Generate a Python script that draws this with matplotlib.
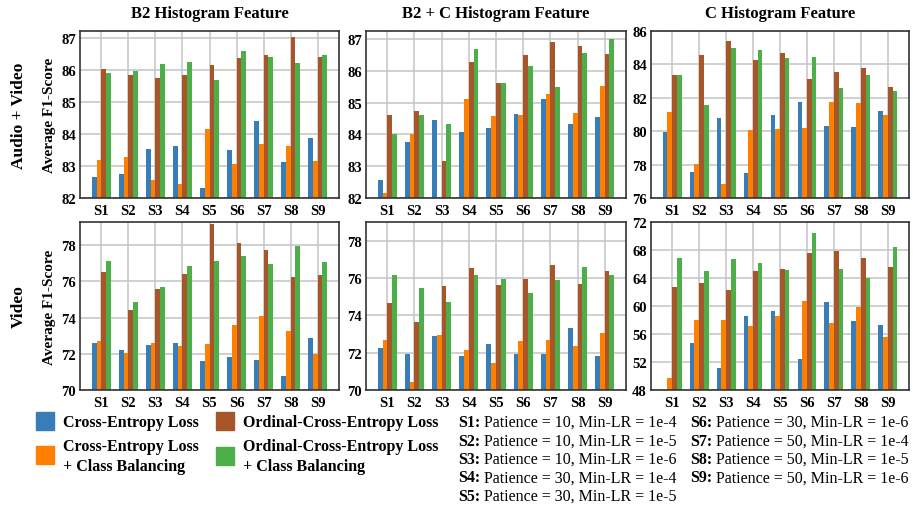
import matplotlib
matplotlib.use("Agg")
import matplotlib.pyplot as plt
import numpy as np
from matplotlib.patches import Rectangle
from matplotlib.text import Annotation

# ---------------- data ----------------
settings = ["S1", "S2", "S3", "S4", "S5", "S6", "S7", "S8", "S9"]
series_names = ["Cross-Entropy Loss",
                "Cross-Entropy Loss\n+ Class Balancing",
                "Ordinal-Cross-Entropy Loss",
                "Ordinal-Cross-Entropy Loss\n+ Class Balancing"]
colors = ["#377eb8", "#ff7f00", "#a65628", "#4daf4a"]
col_titles = ["B2 Histogram Feature", "B2 + C Histogram Feature", "C Histogram Feature"]
row_titles = ["Audio + Video", "Video"]

# Audio + Video
av_b2_ce = [82.67, 82.76, 83.54, 83.63, 82.32, 83.51, 84.41, 83.13, 83.88]
av_b2_ce_cb = [83.20, 83.29, 82.57, 82.45, 84.16, 83.07, 83.70, 83.63, 83.16]
av_b2_oce = [86.03, 85.85, 85.75, 85.85, 86.16, 86.38, 86.47, 87.05, 86.42]
av_b2_oce_cb = [85.91, 85.97, 86.19, 86.25, 85.69, 86.59, 86.41, 86.22, 86.47]

av_b2c_ce = [82.57, 83.76, 84.44, 84.07, 84.19, 84.63, 85.10, 84.32, 84.54]
av_b2c_ce_cb = [82.17, 84.00, 81.90, 85.10, 84.57, 84.60, 85.28, 84.66, 85.53]
av_b2c_oce = [84.60, 84.72, 83.16, 86.28, 85.63, 86.50, 86.91, 86.78, 86.53]
av_b2c_oce_cb = [84.00, 84.60, 84.32, 86.69, 85.63, 86.16, 85.50, 86.56, 87.00]

av_c_ce = [79.98, 77.57, 80.79, 77.51, 80.97, 81.75, 80.31, 80.25, 81.21]
av_c_ce_cb = [81.15, 78.05, 76.85, 80.08, 80.14, 80.19, 81.75, 81.69, 80.97]
av_c_oce = [83.36, 84.55, 85.38, 84.25, 84.67, 83.12, 83.53, 83.77, 82.64]
av_c_oce_cb = [83.36, 81.57, 84.97, 84.85, 84.37, 84.43, 82.58, 83.36, 82.40]

# Video
v_b2_ce = [72.62, 72.18, 72.51, 72.62, 71.62, 71.84, 71.68, 70.79, 72.89]
v_b2_ce_cb = [72.73, 72.06, 72.62, 72.45, 72.56, 73.61, 74.11, 73.23, 71.97]
v_b2_oce = [76.49, 74.44, 75.55, 76.38, 79.14, 78.09, 77.70, 76.21, 76.32]
v_b2_oce_cb = [77.10, 74.83, 75.71, 76.82, 77.13, 77.42, 76.93, 77.93, 77.04]

v_b2c_ce = [72.27, 71.95, 72.91, 71.84, 72.48, 71.95, 71.95, 73.34, 71.84]
v_b2c_ce_cb = [72.70, 70.45, 72.96, 72.16, 71.46, 72.64, 72.70, 72.38, 73.07]
v_b2c_oce = [74.64, 73.66, 75.59, 76.55, 75.64, 75.96, 76.71, 75.70, 76.39]
v_b2c_oce_cb = [76.14, 75.48, 74.73, 76.18, 75.96, 75.21, 75.91, 76.61, 76.18]

v_c_ce = [47.50, 54.67, 51.10, 58.52, 59.24, 52.38, 60.52, 57.90, 57.24]
v_c_ce_cb = [49.67, 57.95, 57.95, 57.10, 58.52, 60.67, 57.52, 59.81, 55.52]
v_c_oce = [62.67, 63.24, 62.24, 64.95, 65.24, 67.52, 67.81, 66.81, 65.52]
v_c_oce_cb = [66.81, 64.95, 66.76, 66.10, 65.10, 70.38, 65.24, 64.00, 68.38]

setting_desc = ["Patience = 10, Min-LR = 1e-4", "Patience = 10, Min-LR = 1e-5",
                "Patience = 10, Min-LR = 1e-6", "Patience = 30, Min-LR = 1e-4",
                "Patience = 30, Min-LR = 1e-5", "Patience = 30, Min-LR = 1e-6",
                "Patience = 50, Min-LR = 1e-4", "Patience = 50, Min-LR = 1e-5",
                "Patience = 50, Min-LR = 1e-6"]

panels = [
    [[av_b2_ce, av_b2_ce_cb, av_b2_oce, av_b2_oce_cb],
     [av_b2c_ce, av_b2c_ce_cb, av_b2c_oce, av_b2c_oce_cb],
     [av_c_ce, av_c_ce_cb, av_c_oce, av_c_oce_cb]],
    [[v_b2_ce, v_b2_ce_cb, v_b2_oce, v_b2_oce_cb],
     [v_b2c_ce, v_b2c_ce_cb, v_b2c_oce, v_b2c_oce_cb],
     [v_c_ce, v_c_ce_cb, v_c_oce, v_c_oce_cb]],
]
ylims = [[(82, 87.23), (82, 87.25), (76, 86)],
         [(70, 79.27), (70, 79.0), (48, 72)]]
ysteps = [[1, 1, 2], [2, 2, 4]]

# ---------------- style ----------------
plt.rcParams['font.family'] = ['Liberation Serif', 'DejaVu Serif']
W, H = 913, 510
fig = plt.figure(figsize=(W / 100, H / 100), dpi=100)

col_lr = [(80, 339), (366, 626), (651, 909)]
row_tb = [(32, 199), (223, 391)]

x = np.arange(len(settings))
bw = 0.175
offsets = [-1.5, -0.5, 0.5, 1.5]

for r in range(2):
    for c in range(3):
        l, rr = col_lr[c]
        t, b = row_tb[r]
        ax = fig.add_axes([l / W, 1 - b / H, (rr - l) / W, (b - t) / H])
        for k in range(4):
            ax.bar(x + offsets[k] * bw, panels[r][c][k], width=bw,
                   color=colors[k], zorder=2)
        ax.set_xlim(-0.785, len(settings) - 1 + 0.785)
        lo, hi = ylims[r][c]
        ax.set_ylim(lo, hi)
        ax.set_yticks(np.arange(lo, hi + 1e-6, ysteps[r][c]))
        ax.set_xticks(x)
        ax.set_xticklabels(settings)
        ax.set_axisbelow(True)
        ax.grid(True, color="#c4c4c4", linewidth=1.1, zorder=0)
        ax.tick_params(length=0, labelsize=10.5, pad=3)
        ax.tick_params(axis='x', pad=4)
        for lab in ax.get_xticklabels() + ax.get_yticklabels():
            lab.set_fontweight('bold')
        for sp in ax.spines.values():
            sp.set_color("#333333")
            sp.set_linewidth(1.2)
        if c == 0:
            ax.set_ylabel("Average F1-Score", fontsize=11, fontweight='bold', labelpad=4)
        if r == 0:
            fig.text((l + rr) / 2 / W, 1 - 13.5 / H, col_titles[c], ha='center',
                     va='center', fontsize=12, fontweight='bold')
    t, b = row_tb[r]
    fig.text(19 / W, 1 - (t + b) / 2 / H, row_titles[r], rotation=90,
             ha='center', va='center', fontsize=12.5, fontweight='bold')

# ---------------- legend ----------------
sq = 18
leg_pos = [(36, 413, 63, 423), (36, 447, 63, 457),
           (216, 413, 243, 423), (216, 448, 243, 457)]
for k in range(4):
    sx, sy, tx, ty = leg_pos[k]
    fig.patches.append(Rectangle((sx / W, 1 - (sy + sq) / H), sq / W, sq / H,
                                 transform=fig.transFigure, color=colors[k]))
    fig.text(tx / W, 1 - ty / H, series_names[k], ha='left', va='center',
             fontsize=11.5, fontweight='bold', linespacing=1.3)

# ---------------- settings description ----------------
line_y = [423, 441.5, 460, 478.5, 497]
for i, (s, d) in enumerate(zip(settings, setting_desc)):
    if i < 5:
        xx, yy = 458, line_y[i]
    else:
        xx, yy = 690, line_y[i - 5]
    tb = fig.text(xx / W, 1 - yy / H, s + ":", ha='left', va='center',
                  fontsize=11.5, fontweight='bold')
    fig.add_artist(Annotation(
        " " + d, xy=(1, 0.5), xycoords=tb, xytext=(0, 0), textcoords='offset points',
        ha='left', va='center', fontsize=11.5))

fig.savefig("out.png", dpi=100)
